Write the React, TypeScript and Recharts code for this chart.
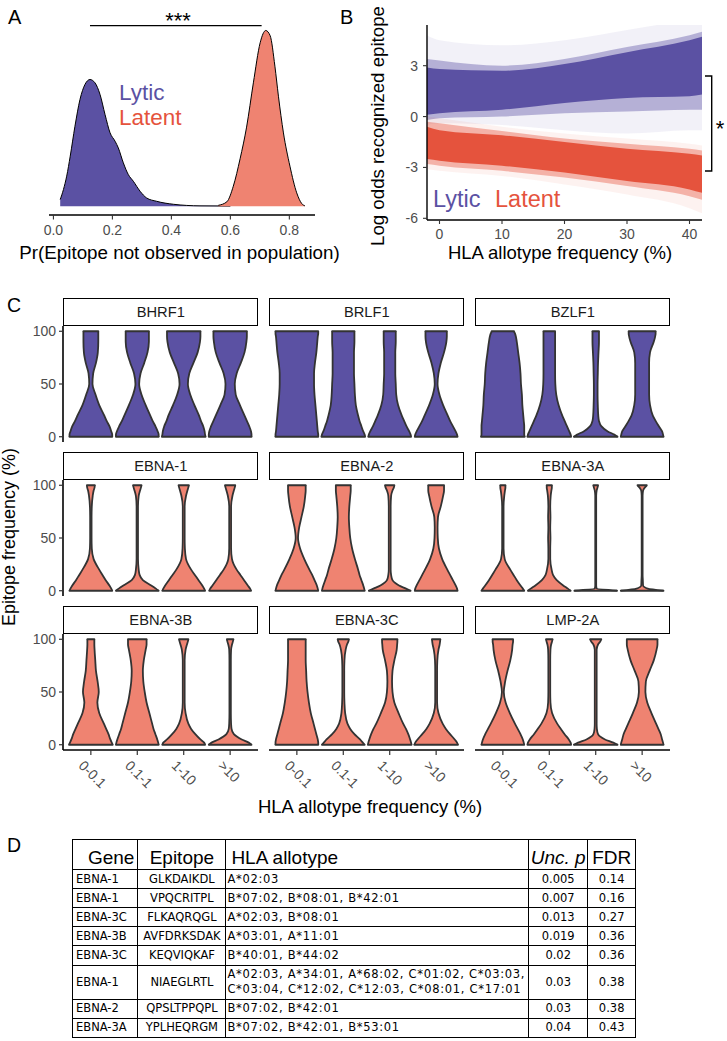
import React from 'react';
import { ComposedChart, Area, XAxis, YAxis, ReferenceLine } from 'recharts';

const FONT = '"Liberation Sans", Arial, Helvetica, sans-serif';
const TABLE_FONT = '"DejaVu Sans", Verdana, sans-serif';
const LYTIC = '#5b51a3';
const LATENT_FILL = '#ef8371';
const LATENT_LINE = '#e5533d';
const AXIS_GREY = '#4d4d4d';
const VIOLIN_STROKE = '#333333';

// ---------- Panel A: density of Pr(epitope not observed) ----------
const lyticX = [0.023, 0.034, 0.045, 0.057, 0.073, 0.090, 0.107, 0.124, 0.141, 0.158, 0.175, 0.192, 0.209, 0.220, 0.237, 0.254, 0.271, 0.294, 0.316, 0.350, 0.407, 0.497, 0.600];
const lyticDensity = [0.38, 0.95, 1.71, 2.85, 4.55, 6.07, 6.93, 7.21, 7.02, 6.36, 5.22, 4.18, 3.70, 3.32, 2.47, 1.80, 1.42, 0.85, 0.47, 0.28, 0.11, 0.02, 0.01];
const latentX = [0.559, 0.588, 0.610, 0.633, 0.655, 0.678, 0.701, 0.720, 0.735, 0.751, 0.763, 0.780, 0.802, 0.825, 0.842, 0.853];
const latentDensity = [0.05, 0.25, 1.14, 2.70, 4.50, 7.02, 9.30, 10.0, 9.70, 7.97, 6.26, 4.17, 2.28, 0.76, 0.15, 0.02];
const aTicks = [0, 0.2, 0.4, 0.6, 0.8];
const aBracket = [0.124, 0.706];
const aBracketY = 10.28;

// ---------- Panel B: posterior draws (bands of line density) ----------
const bX = [-2, 0, 10, 20, 30, 40, 42];
const bTicksX = [0, 10, 20, 30, 40];
const bTicksY = [-6, -3, 0, 3];
const lyticOuterLo = [-0.5, -0.4, -0.5, -0.8, -1.0, -0.8, -0.8];
const lyticOuterHi = [4.8, 4.5, 4.2, 4.5, 5.1, 5.8, 6.0];
const lyticMidLo = [-0.2, -0.1, 0.0, 0.2, 0.3, 0.4, 0.4];
const lyticMidHi = [3.4, 3.3, 3.0, 3.4, 4.1, 4.8, 5.0];
const lyticCoreLo = [0.1, 0.2, 0.4, 0.8, 1.1, 1.2, 1.3];
const lyticCoreHi = [2.9, 2.8, 2.7, 3.1, 3.8, 4.5, 4.7];
const latentOuterLo = [-3.1, -3.2, -3.5, -4.0, -4.6, -5.4, -5.7];
const latentOuterHi = [0.0, -0.1, -0.6, -1.0, -1.3, -1.6, -1.7];
const latentMidLo = [-2.8, -2.9, -3.2, -3.6, -4.1, -4.7, -4.9];
const latentMidHi = [-0.3, -0.4, -0.85, -1.3, -1.6, -1.9, -2.0];
const latentCoreLo = [-2.5, -2.6, -2.9, -3.3, -3.8, -4.3, -4.5];
const latentCoreHi = [-0.6, -0.8, -1.1, -1.5, -1.9, -2.2, -2.3];

// ---------- Panel C: violins ----------
const freqBins = ['0-0.1', '0.1-1', '1-10', '>10'];
const levels = [0, 2, 5, 10, 15, 20, 30, 40, 50, 60, 70, 80, 90, 95, 98, 100];
const facetNames = ['BHRF1', 'BRLF1', 'BZLF1', 'EBNA-1', 'EBNA-2', 'EBNA-3A', 'EBNA-3B', 'EBNA-3C', 'LMP-2A'];
const facetIsLytic = [true, true, true, false, false, false, false, false, false];

const bhrf1W = [
  [0.46, 0.46, 0.44, 0.40, 0.34, 0.29, 0.18, 0.10, 0.035, 0.05, 0.11, 0.15, 0.16, 0.16, 0.16, 0.16],
  [0.46, 0.46, 0.44, 0.39, 0.33, 0.28, 0.18, 0.09, 0.04, 0.07, 0.15, 0.22, 0.25, 0.25, 0.25, 0.25],
  [0.47, 0.46, 0.45, 0.42, 0.37, 0.33, 0.23, 0.14, 0.09, 0.12, 0.21, 0.30, 0.35, 0.36, 0.36, 0.36],
  [0.46, 0.46, 0.45, 0.41, 0.36, 0.31, 0.21, 0.12, 0.10, 0.14, 0.23, 0.31, 0.35, 0.36, 0.36, 0.36],
];
const brlf1W = [
  [0.46, 0.46, 0.45, 0.44, 0.43, 0.42, 0.40, 0.38, 0.37, 0.37, 0.39, 0.42, 0.44, 0.45, 0.46, 0.46],
  [0.47, 0.46, 0.43, 0.39, 0.35, 0.32, 0.27, 0.25, 0.24, 0.23, 0.23, 0.23, 0.24, 0.24, 0.24, 0.24],
  [0.46, 0.45, 0.42, 0.36, 0.31, 0.26, 0.18, 0.14, 0.13, 0.12, 0.12, 0.12, 0.13, 0.13, 0.13, 0.13],
  [0.46, 0.45, 0.42, 0.36, 0.30, 0.25, 0.15, 0.07, 0.03, 0.05, 0.10, 0.17, 0.22, 0.23, 0.23, 0.23],
];
const bzlf1W = [
  [0.47, 0.46, 0.46, 0.46, 0.45, 0.44, 0.42, 0.41, 0.39, 0.38, 0.36, 0.33, 0.30, 0.28, 0.26, 0.24],
  [0.47, 0.46, 0.43, 0.38, 0.33, 0.28, 0.20, 0.15, 0.13, 0.125, 0.125, 0.125, 0.125, 0.125, 0.125, 0.125],
  [0.47, 0.40, 0.26, 0.12, 0.07, 0.055, 0.045, 0.04, 0.04, 0.045, 0.05, 0.06, 0.07, 0.07, 0.07, 0.07],
  [0.46, 0.45, 0.43, 0.36, 0.29, 0.23, 0.17, 0.15, 0.15, 0.15, 0.15, 0.17, 0.25, 0.28, 0.29, 0.29],
];
const ebna1W = [
  [0.46, 0.44, 0.40, 0.32, 0.25, 0.18, 0.06, 0.02, 0.015, 0.015, 0.015, 0.02, 0.04, 0.06, 0.08, 0.085],
  [0.46, 0.40, 0.30, 0.12, 0.05, 0.03, 0.015, 0.015, 0.015, 0.015, 0.015, 0.015, 0.03, 0.06, 0.08, 0.09],
  [0.46, 0.44, 0.40, 0.32, 0.24, 0.16, 0.05, 0.025, 0.02, 0.02, 0.02, 0.02, 0.05, 0.08, 0.10, 0.11],
  [0.45, 0.43, 0.38, 0.30, 0.22, 0.14, 0.04, 0.02, 0.02, 0.02, 0.02, 0.02, 0.05, 0.08, 0.10, 0.11],
];
const ebna2W = [
  [0.46, 0.45, 0.43, 0.38, 0.33, 0.27, 0.16, 0.07, 0.025, 0.05, 0.10, 0.15, 0.18, 0.19, 0.19, 0.19],
  [0.46, 0.45, 0.43, 0.39, 0.35, 0.32, 0.25, 0.19, 0.15, 0.13, 0.12, 0.13, 0.15, 0.16, 0.16, 0.16],
  [0.45, 0.35, 0.20, 0.06, 0.03, 0.02, 0.02, 0.02, 0.02, 0.02, 0.02, 0.02, 0.03, 0.06, 0.09, 0.10],
  [0.46, 0.45, 0.42, 0.36, 0.30, 0.24, 0.13, 0.06, 0.035, 0.03, 0.04, 0.10, 0.15, 0.17, 0.17, 0.17],
];
const ebna3aW = [
  [0.46, 0.43, 0.38, 0.30, 0.23, 0.16, 0.04, 0.015, 0.015, 0.015, 0.015, 0.015, 0.03, 0.045, 0.055, 0.055],
  [0.46, 0.40, 0.30, 0.16, 0.08, 0.05, 0.02, 0.02, 0.025, 0.02, 0.025, 0.02, 0.03, 0.045, 0.055, 0.055],
  [0.46, 0.02, 0.01, 0.01, 0.01, 0.01, 0.01, 0.01, 0.01, 0.01, 0.01, 0.01, 0.01, 0.02, 0.04, 0.05],
  [0.46, 0.12, 0.02, 0.015, 0.01, 0.01, 0.01, 0.01, 0.01, 0.01, 0.01, 0.01, 0.01, 0.02, 0.06, 0.10],
];
const ebna3bW = [
  [0.47, 0.45, 0.42, 0.38, 0.33, 0.28, 0.18, 0.14, 0.17, 0.145, 0.11, 0.095, 0.08, 0.075, 0.075, 0.075],
  [0.46, 0.45, 0.43, 0.39, 0.35, 0.32, 0.26, 0.20, 0.16, 0.13, 0.12, 0.14, 0.18, 0.20, 0.20, 0.20],
  [0.46, 0.44, 0.36, 0.25, 0.16, 0.10, 0.04, 0.02, 0.02, 0.02, 0.02, 0.02, 0.04, 0.07, 0.09, 0.10],
  [0.46, 0.40, 0.25, 0.08, 0.03, 0.02, 0.015, 0.015, 0.015, 0.015, 0.015, 0.015, 0.02, 0.04, 0.06, 0.07],
];
const ebna3cW = [
  [0.46, 0.46, 0.45, 0.42, 0.39, 0.36, 0.30, 0.26, 0.23, 0.21, 0.20, 0.19, 0.19, 0.19, 0.19, 0.19],
  [0.46, 0.42, 0.36, 0.24, 0.15, 0.09, 0.04, 0.025, 0.02, 0.02, 0.02, 0.025, 0.05, 0.08, 0.11, 0.12],
  [0.47, 0.46, 0.44, 0.40, 0.35, 0.29, 0.19, 0.10, 0.06, 0.05, 0.06, 0.10, 0.15, 0.16, 0.165, 0.165],
  [0.47, 0.45, 0.40, 0.30, 0.21, 0.14, 0.05, 0.02, 0.02, 0.02, 0.02, 0.025, 0.05, 0.075, 0.085, 0.09],
];
const lmp2aW = [
  [0.46, 0.45, 0.43, 0.38, 0.32, 0.26, 0.15, 0.06, 0.02, 0.05, 0.10, 0.16, 0.20, 0.21, 0.22, 0.22],
  [0.47, 0.46, 0.42, 0.33, 0.25, 0.17, 0.06, 0.025, 0.02, 0.02, 0.02, 0.02, 0.025, 0.04, 0.06, 0.07],
  [0.47, 0.38, 0.20, 0.05, 0.025, 0.02, 0.02, 0.02, 0.02, 0.02, 0.02, 0.02, 0.02, 0.05, 0.10, 0.12],
  [0.46, 0.45, 0.43, 0.40, 0.35, 0.30, 0.20, 0.11, 0.07, 0.08, 0.16, 0.25, 0.31, 0.33, 0.33, 0.33],
];
const facetWidths = [bhrf1W, brlf1W, bzlf1W, ebna1W, ebna2W, ebna3aW, ebna3bW, ebna3cW, lmp2aW];

// ---------- Panel D: table ----------
const tGene = ['EBNA-1', 'EBNA-1', 'EBNA-3C', 'EBNA-3B', 'EBNA-3C', 'EBNA-1', 'EBNA-2', 'EBNA-3A'];
const tEpitope = ['GLKDAIKDL', 'VPQCRITPL', 'FLKAQRQGL', 'AVFDRKSDAK', 'KEQVIQKAF', 'NIAEGLRTL', 'QPSLTPPQPL', 'YPLHEQRGM'];
const tHla = [
  ['A*02:03'],
  ['B*07:02, B*08:01, B*42:01'],
  ['A*02:03, B*08:01'],
  ['A*03:01, A*11:01'],
  ['B*40:01, B*44:02'],
  ['A*02:03, A*34:01, A*68:02, C*01:02, C*03:03,', 'C*03:04, C*12:02, C*12:03, C*08:01, C*17:01'],
  ['B*07:02, B*42:01'],
  ['B*07:02, B*42:01, B*53:01'],
];
const tP = ['0.005', '0.007', '0.013', '0.019', '0.02', '0.03', '0.03', '0.04'];
const tFdr = ['0.14', '0.16', '0.27', '0.36', '0.36', '0.38', '0.38', '0.43'];

// ---------- layout constants (positions only) ----------
const COL_LEFT = [63.3, 269.3, 475.3];
const PANEL_W = 195;
const STRIP_TOP = [298.3, 452.3, 606.3];
const STRIP_H = 27.4;
const PANEL_H = 116;
const Y_AX_W = 45;
const X_AX_H = 40;
const PAD_T = 10;

const ViolinTick = (props: any) => {
  const { x, y, payload } = props;
  const label = freqBins[Math.round(payload.value) - 1] ?? '';
  const sx = x - 13;
  const sy = y + 9.5;
  return (
    <text x={sx} y={sy} transform={`rotate(45, ${sx}, ${sy})`} textAnchor="start" fill={AXIS_GREY} fontSize={14} fontFamily={FONT}>
      {label}
    </text>
  );
};

function Facet({ idx }: { idx: number }) {
  const r = Math.floor(idx / 3);
  const c = idx % 3;
  const widths = facetWidths[idx];
  const lytic = facetIsLytic[idx];
  const data = levels.map((y, i) => {
    const row: any = { y };
    widths.forEach((w, k) => {
      row[`v${k}`] = [k + 1 - w[i], k + 1 + w[i]];
    });
    return row;
  });
  const showX = r === 2;
  const showY = c === 0;
  const last = levels.length - 1;
  const W = PANEL_W + Y_AX_W;
  const H = PANEL_H + X_AX_H + PAD_T;
  return (
    <div style={{ position: 'absolute', left: COL_LEFT[c] - Y_AX_W, top: STRIP_TOP[r] + STRIP_H - PAD_T, width: W, height: H }}>
      <ComposedChart
        width={W}
        height={H}
        data={data}
        layout="vertical"
        margin={{ top: PAD_T, right: 0, bottom: showX ? 0 : X_AX_H, left: showY ? 0 : Y_AX_W }}
      >
        <XAxis
          type="number"
          domain={[0.4, 4.6]}
          allowDataOverflow
          ticks={[1, 2, 3, 4]}
          hide={!showX}
          height={X_AX_H}
          interval={0}
          axisLine={{ stroke: '#000', strokeWidth: 1.6 }}
          tickLine={{ stroke: '#333', strokeWidth: 1.2 }}
          tickSize={5}
          tickMargin={2}
          tick={<ViolinTick />}
        />
        <YAxis
          type="number"
          dataKey="y"
          domain={[-5, 105]}
          allowDataOverflow
          reversed
          ticks={[0, 50, 100]}
          hide={!showY}
          width={Y_AX_W}
          interval={0}
          axisLine={{ stroke: '#000', strokeWidth: 1.6 }}
          tickLine={{ stroke: '#333', strokeWidth: 1.2 }}
          tickSize={4}
          tickMargin={3}
          tick={{ fill: AXIS_GREY, fontSize: 14, fontFamily: FONT }}
        />
        {widths.map((_, k) => (
          <Area
            key={`a${k}`}
            dataKey={`v${k}`}
            type="monotone"
            fill={lytic ? LYTIC : LATENT_FILL}
            fillOpacity={1}
            stroke={VIOLIN_STROKE}
            strokeWidth={1.8}
            isAnimationActive={false}
          />
        ))}
        {widths.flatMap((w, k) => [
          <ReferenceLine
            key={`b${k}`}
            segment={[{ x: k + 1 - w[0], y: 0 }, { x: k + 1 + w[0], y: 0 }]}
            stroke={VIOLIN_STROKE}
            strokeWidth={1.8}
            strokeLinecap="round"
          />,
          <ReferenceLine
            key={`t${k}`}
            segment={[{ x: k + 1 - w[last], y: 100 }, { x: k + 1 + w[last], y: 100 }]}
            stroke={VIOLIN_STROKE}
            strokeWidth={1.8}
            strokeLinecap="round"
          />,
        ])}
      </ComposedChart>
    </div>
  );
}

export default function App() {
  const xs = Array.from(new Set([...lyticX, ...latentX])).sort((a, b) => a - b);
  const densityData = xs.map((x) => {
    const i = lyticX.indexOf(x);
    const j = latentX.indexOf(x);
    return { x, lytic: i >= 0 ? lyticDensity[i] : null, latent: j >= 0 ? latentDensity[j] : null };
  });

  const bData = bX.map((x, i) => ({
    x,
    lo: [lyticOuterLo[i], lyticOuterHi[i]],
    lm: [lyticMidLo[i], lyticMidHi[i]],
    lc: [lyticCoreLo[i], lyticCoreHi[i]],
    to: [latentOuterLo[i], latentOuterHi[i]],
    tm: [latentMidLo[i], latentMidHi[i]],
    tc: [latentCoreLo[i], latentCoreHi[i]],
  }));

  const axisLine = { stroke: '#000', strokeWidth: 1.4 };
  const tickLine = { stroke: '#333', strokeWidth: 1.1 };
  const tickStyle = { fill: AXIS_GREY, fontSize: 14, fontFamily: FONT };

  const rowHeights = [19, 19, 19.4, 19, 19.3, 34.3, 19, 19];
  const cellBorder = '1.6px solid #000';
  const bodyCell: React.CSSProperties = { border: cellBorder, fontFamily: TABLE_FONT, fontSize: 11.5, padding: '0 3px', lineHeight: '15px', color: '#000', whiteSpace: 'nowrap', overflow: 'hidden' };
  const headCell: React.CSSProperties = { border: cellBorder, fontFamily: FONT, fontSize: 19, padding: '0 2px', lineHeight: '22px', color: '#000', whiteSpace: 'nowrap', verticalAlign: 'bottom', overflow: 'hidden' };

  return (
    <div style={{ position: 'absolute', left: 0, top: 0, width: 727, height: 1041, background: '#fff', fontFamily: FONT, overflow: 'hidden' }}>
      {/* Panel A */}
      <div style={{ position: 'absolute', left: 0, top: 0 }}>
        <ComposedChart width={340} height={280} data={densityData} margin={{ top: 21.7, right: 25, bottom: 20, left: 49 }}>
          <XAxis
            type="number"
            dataKey="x"
            domain={[-0.015, 0.887]}
            allowDataOverflow
            ticks={aTicks}
            interval={0}
            tickFormatter={(v: number) => v.toFixed(1)}
            height={45}
            axisLine={axisLine}
            tickLine={tickLine}
            tickSize={4.5}
            tickMargin={6}
            tick={tickStyle}
          />
          <YAxis type="number" domain={[-0.5, 10.5]} allowDataOverflow width={0} tick={false} tickLine={false} axisLine={axisLine} />
          <Area dataKey="lytic" type="monotone" baseValue={0} connectNulls fill={LYTIC} fillOpacity={1} stroke="#000" strokeWidth={1} isAnimationActive={false} />
          <Area dataKey="latent" type="monotone" baseValue={0} connectNulls fill={LATENT_FILL} fillOpacity={1} stroke="#000" strokeWidth={1} isAnimationActive={false} />
          <ReferenceLine segment={[{ x: aBracket[0], y: aBracketY }, { x: aBracket[1], y: aBracketY }]} stroke="#000" strokeWidth={1.3} ifOverflow="visible" />
        </ComposedChart>
      </div>

      {/* Panel B */}
      <div style={{ position: 'absolute', left: 360, top: 0 }}>
        <ComposedChart width={367} height={280} data={bData} margin={{ top: 25, right: 25, bottom: 20, left: 37 }}>
          <XAxis
            type="number"
            dataKey="x"
            domain={[-2, 42]}
            allowDataOverflow
            ticks={bTicksX}
            interval={0}
            height={40}
            axisLine={axisLine}
            tickLine={tickLine}
            tickSize={4}
            tickMargin={5.5}
            tick={tickStyle}
          />
          <YAxis
            type="number"
            domain={[-6.1, 5.4]}
            allowDataOverflow
            ticks={bTicksY}
            interval={0}
            width={30}
            axisLine={axisLine}
            tickLine={tickLine}
            tickSize={4}
            tickMargin={5}
            tick={tickStyle}
          />
          <Area dataKey="lo" type="monotone" fill={LYTIC} fillOpacity={0.08} stroke="none" isAnimationActive={false} />
          <Area dataKey="lm" type="monotone" fill={LYTIC} fillOpacity={0.4} stroke="none" isAnimationActive={false} />
          <Area dataKey="lc" type="monotone" fill={LYTIC} fillOpacity={1} stroke="none" isAnimationActive={false} />
          <Area dataKey="to" type="monotone" fill={LATENT_LINE} fillOpacity={0.08} stroke="none" isAnimationActive={false} />
          <Area dataKey="tm" type="monotone" fill={LATENT_LINE} fillOpacity={0.4} stroke="none" isAnimationActive={false} />
          <Area dataKey="tc" type="monotone" fill={LATENT_LINE} fillOpacity={1} stroke="none" isAnimationActive={false} />
        </ComposedChart>
      </div>

      {/* Panel C facets */}
      {facetNames.map((_, idx) => (
        <Facet key={idx} idx={idx} />
      ))}
      {facetNames.map((name, idx) => {
        const r = Math.floor(idx / 3);
        const c = idx % 3;
        return (
          <div
            key={`s${idx}`}
            style={{
              position: 'absolute',
              left: COL_LEFT[c],
              top: STRIP_TOP[r],
              width: PANEL_W,
              height: STRIP_H,
              boxSizing: 'border-box',
              border: '1.7px solid #000',
              background: '#fff',
              display: 'flex',
              alignItems: 'center',
              justifyContent: 'center',
              fontFamily: FONT,
              fontSize: 14.7,
              color: '#1a1a1a',
            }}
          >
            {name}
          </div>
        );
      })}

      {/* Panel D table */}
      <table
        style={{
          position: 'absolute',
          left: 72,
          top: 839,
          width: 563,
          borderCollapse: 'collapse',
          tableLayout: 'fixed',
        }}
      >
        <colgroup>
          <col style={{ width: 65.4 }} />
          <col style={{ width: 88 }} />
          <col style={{ width: 302.6 }} />
          <col style={{ width: 59.4 }} />
          <col style={{ width: 47.6 }} />
        </colgroup>
        <tbody>
          <tr style={{ height: 30 }}>
            <td style={{ ...headCell, textAlign: 'right', paddingRight: 3 }}>Gene</td>
            <td style={{ ...headCell, textAlign: 'center' }}>Epitope</td>
            <td style={{ ...headCell, textAlign: 'left', paddingLeft: 5 }}>HLA allotype</td>
            <td style={{ ...headCell, textAlign: 'center', fontStyle: 'italic', padding: 0 }}>Unc. p</td>
            <td style={{ ...headCell, textAlign: 'center', padding: 0 }}>FDR</td>
          </tr>
          {tGene.map((g, i) => (
            <tr key={i} style={{ height: rowHeights[i] }}>
              <td style={{ ...bodyCell, textAlign: 'left' }}>{g}</td>
              <td style={{ ...bodyCell, textAlign: 'center', padding: 0 }}>{tEpitope[i]}</td>
              <td style={{ ...bodyCell, textAlign: 'left', padding: '0 1px', fontSize: 11.5, letterSpacing: 0.7 }}>
                {tHla[i].map((line, k) => (
                  <div key={k}>{line}</div>
                ))}
              </td>
              <td style={{ ...bodyCell, textAlign: 'center' }}>{tP[i]}</td>
              <td style={{ ...bodyCell, textAlign: 'center' }}>{tFdr[i]}</td>
            </tr>
          ))}
        </tbody>
      </table>

      {/* Annotations */}
      <svg width={727} height={1041} style={{ position: 'absolute', left: 0, top: 0, pointerEvents: 'none' }} fontFamily={FONT}>
        <text x={8} y={24} fontSize={20} fill="#000">A</text>
        <text x={178} y={28} fontSize={22} fill="#000" textAnchor="middle">***</text>
        <text x={119} y={100} fontSize={22.5} fill={LYTIC}>Lytic</text>
        <text x={119} y={125} fontSize={22.5} fill={LATENT_LINE}>Latent</text>
        <text x={179.5} y={259} fontSize={18.8} fill="#000" textAnchor="middle">Pr(Epitope not observed in population)</text>

        <text x={340} y={24} fontSize={20} fill="#000">B</text>
        <text x={384} y={126} fontSize={18.7} fill="#000" textAnchor="middle" transform="rotate(-90, 384, 126)">Log odds recognized epitope</text>
        <text x={560} y={259} fontSize={18.5} fill="#000" textAnchor="middle">HLA allotype frequency (%)</text>
        <path d="M 705 76 H 711.7 V 171 H 705" fill="none" stroke="#000" strokeWidth={1.4} />
        <text x={720} y={136} fontSize={22} fill="#000" textAnchor="middle">*</text>
        <text x={433} y={207} fontSize={23.5} fill={LYTIC}>Lytic</text>
        <text x={495} y={207} fontSize={23.5} fill={LATENT_LINE}>Latent</text>

        <text x={7} y={312} fontSize={19.5} fill="#000">C</text>
        <text x={15} y={537} fontSize={18} fill="#000" textAnchor="middle" transform="rotate(-90, 15, 537)">Epitope frequency (%)</text>
        <text x={370} y={813} fontSize={18.5} fill="#000" textAnchor="middle">HLA allotype frequency (%)</text>

        <text x={7} y={852} fontSize={19.5} fill="#000">D</text>
      </svg>
    </div>
  );
}
